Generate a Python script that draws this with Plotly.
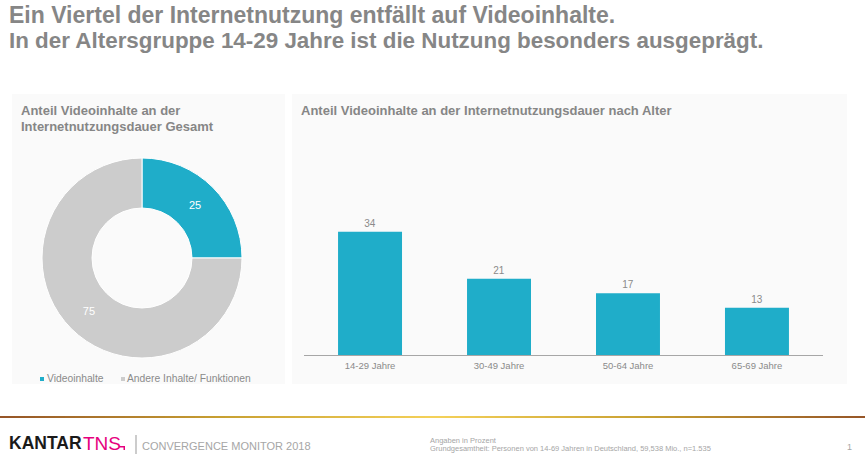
import plotly.graph_objects as go

W, H = 865, 463
FONT = "Liberation Sans"
TEAL = "#1fadc9"
LIGHT = "#cccccc"
GREY = "#868686"
TEXT = "#8a8a8a"
PANEL = "#fafafa"

title_lines = ["Ein Viertel der Internetnutzung entfällt auf Videoinhalte.",
               "In der Altersgruppe 14-29 Jahre ist die Nutzung besonders ausgeprägt."]

donut_labels = ["Videoinhalte", "Andere Inhalte/ Funktionen"]
donut_values = [25, 75]

age_groups = ["14-29 Jahre", "30-49 Jahre", "50-64 Jahre", "65-69 Jahre"]
age_values = [34, 21, 17, 13]


def px(x):
    return x / W


def py(y):
    return 1 - y / H


def text(x, y, s, size, color=TEXT, bold=False, anchor="left"):
    if bold:
        s = "<b>" + s + "</b>"
    # annotations carry about 2px of padding on the left
    fig.add_annotation(x=px(x - 2), y=py(y), xref="paper", yref="paper", text=s, showarrow=False,
                       xanchor=anchor, yanchor="middle", align="left",
                       font=dict(family=FONT, size=size, color=color))


def rect(x0, y0, x1, y1, color):
    fig.add_shape(type="rect", xref="paper", yref="paper", x0=px(x0), x1=px(x1), y0=py(y0), y1=py(y1),
                  fillcolor=color, line_width=0, layer="below")


fig = go.Figure()

fig.add_trace(go.Pie(
    labels=donut_labels,
    values=donut_values,
    hole=0.5,
    sort=False,
    direction="clockwise",
    rotation=0,
    textinfo="value",
    textposition="inside",
    insidetextorientation="horizontal",
    textfont=dict(family=FONT, size=11, color="white"),
    marker=dict(colors=[TEAL, LIGHT], line=dict(color="white", width=1)),
    domain=dict(x=[px(42), px(242)], y=[py(358), py(158)]),
    showlegend=False,
))

fig.add_trace(go.Bar(
    x=age_groups,
    y=age_values,
    width=0.496,
    marker=dict(color=TEAL, line_width=0),
    text=age_values,
    textposition="outside",
    cliponaxis=False,
    textfont=dict(family=FONT, size=10, color=TEXT),
    showlegend=False,
))

# panels
rect(12, 94, 285, 384, PANEL)
rect(292, 94, 847, 384, PANEL)

# footer rule, brown to gold and back
stops = [(0, (150, 85, 40)), (0.25, (200, 160, 50)), (0.5, (245, 210, 90)), (0.75, (200, 160, 50)), (1, (150, 85, 40))]
for i in range(0, W, 5):
    t = i / W
    for (a, ca), (b, cb) in zip(stops, stops[1:]):
        if a <= t <= b:
            f = (t - a) / (b - a)
            c = [int(ca[k] + (cb[k] - ca[k]) * f) for k in range(3)]
            rect(i, 416, i + 5, 418, "rgb({},{},{})".format(*c))
            break

# titles
text(9, 15, title_lines[0], 23, GREY, True)
text(9, 41, title_lines[1], 22.4, GREY, True)
text(21, 110, "Anteil Videoinhalte an der", 13, GREY, True)
text(21, 126, "Internetnutzungsdauer Gesamt", 13, GREY, True)
text(301, 110, "Anteil Videoinhalte an der Internetnutzungsdauer nach Alter", 13, GREY, True)

# donut legend
rect(40, 377, 44, 381, TEAL)
text(47, 378, donut_labels[0], 10.3)
rect(121, 377, 125, 381, LIGHT)
text(127, 378, donut_labels[1], 10.3)

# footer
text(9, 443, "KANTAR", 17.5, "#1a1a1a", True)
text(83, 443, "TNS", 19, "#e6007e")
# small corner mark of the logo
rect(119, 446, 125, 447.5, "#e6007e")
rect(123.5, 446, 125, 450, "#e6007e")
fig.add_shape(type="line", xref="paper", yref="paper", x0=px(136), x1=px(136), y0=py(435), y1=py(454),
              line=dict(color="#999999", width=1))
text(142, 446, "CONVERGENCE MONITOR 2018", 11, "#a6a6a6")
text(430, 440, "Angaben in Prozent", 7.5, "#a6a6a6")
text(430, 448, "Grundgesamtheit: Personen von 14-69 Jahren in Deutschland, 59,538 Mio., n=1.535", 7.5, "#a6a6a6")
text(847, 447, "1", 9, "#a6a6a6")

fig.update_layout(
    width=W,
    height=H,
    margin=dict(l=0, r=0, t=0, b=0),
    paper_bgcolor="white",
    plot_bgcolor="rgba(0,0,0,0)",
    xaxis=dict(domain=[px(304), px(823)], range=[-0.512, 3.512], type="category", showgrid=False,
               ticks="outside", ticklen=2, tickcolor="rgba(0,0,0,0)", showline=True, linecolor="#a6a6a6",
               linewidth=1, tickfont=dict(family=FONT, size=9.5, color=TEXT)),
    yaxis=dict(domain=[py(355), py(210)], range=[0, 40], visible=False, showgrid=False),
)

fig.write_html("out.html", config=dict(displayModeBar=False), post_script="document.body.style.margin='0';")
